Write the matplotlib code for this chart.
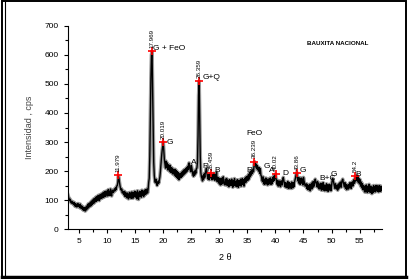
import numpy as np
import matplotlib
matplotlib.use("Agg")
import matplotlib.pyplot as plt
from matplotlib.patches import Rectangle
from matplotlib.lines import Line2D
from matplotlib.ticker import MultipleLocator

plt.rcParams['font.family'] = ['Liberation Sans', 'DejaVu Sans']

# intensity, one row per degree (x.0 ... x.9), start at 3.0
intensity = [
    118, 112, 104, 98, 103, 95, 90, 96, 88, 92,
    85, 92, 80, 88, 78, 86, 76, 84, 88, 78,
    82, 74, 86, 72, 80, 70, 78, 66, 74, 64,
    74, 62, 76, 66, 80, 70, 86, 74, 88, 78,
    92, 80, 96, 84, 100, 88, 104, 90, 106, 94,
    110, 96, 112, 100, 116, 102, 98, 118, 104, 120,
    106, 122, 108, 126, 110, 128, 112, 130, 114, 124,
    132, 114, 136, 118, 130, 116, 138, 120, 114, 132,
    134, 126, 130, 138, 132, 142, 136, 148, 150, 160,
    182, 175, 160, 148, 140, 134, 138, 125, 130, 122,
    118, 130, 112, 126, 114, 108, 124, 110, 104, 122,
    126, 108, 124, 106, 128, 112, 106, 126, 114, 130,
    110, 128, 114, 104, 132, 116, 102, 126, 130, 112,
    128, 110, 134, 116, 130, 112, 132, 118, 136, 120,
    126, 138, 124, 136, 160, 175, 250, 380, 520, 600,
    613, 480, 330, 230, 185, 165, 160, 172, 158, 150,
    155, 165, 158, 170, 180, 200, 225, 250, 270, 285,
    300, 270, 240, 225, 210, 234, 212, 228, 204, 222,
    212, 200, 220, 196, 212, 194, 210, 190, 206, 196,
    186, 206, 182, 202, 178, 198, 174, 194, 170, 190,
    176, 192, 178, 196, 182, 200, 186, 204, 190, 206,
    194, 210, 198, 214, 204, 222, 228, 212, 204, 198,
    220, 210, 196, 186, 182, 198, 186, 202, 192, 208,
    210, 230, 320, 460, 510, 380, 250, 195, 180, 175,
    166, 184, 172, 190, 178, 194, 200, 210, 192, 180,
    172, 188, 170, 184, 192, 176, 190, 170, 186, 172,
    192, 176, 168, 188, 172, 196, 164, 178, 162, 176,
    156, 174, 152, 172, 154, 176, 158, 180, 162, 154,
    152, 172, 156, 174, 150, 168, 162, 146, 170, 152,
    168, 150, 172, 156, 144, 166, 150, 174, 158, 148,
    164, 146, 170, 150, 144, 168, 162, 150, 172, 148,
    166, 174, 154, 170, 148, 164, 176, 160, 180, 166,
    182, 168, 188, 172, 196, 180, 198, 186, 202, 192,
    205, 198, 222, 232, 218, 225, 210, 220, 205, 214,
    200, 212, 192, 208, 186, 182, 168, 164, 180, 156,
    172, 154, 170, 176, 156, 172, 152, 168, 154, 174,
    158, 176, 154, 170, 156, 178, 164, 182, 168, 184,
    190, 174, 166, 154, 168, 148, 164, 150, 166, 146,
    162, 166, 152, 170, 178, 168, 160, 146, 160, 144,
    158, 142, 164, 146, 140, 160, 144, 156, 140, 162,
    148, 142, 160, 146, 162, 170, 178, 188, 195, 180,
    166, 178, 158, 176, 154, 170, 176, 158, 172, 152,
    178, 166, 158, 148, 150, 156, 140, 154, 136, 150,
    136, 154, 132, 150, 156, 138, 162, 144, 164, 148,
    164, 172, 162, 156, 146, 164, 144, 158, 138, 152,
    140, 158, 134, 154, 136, 160, 134, 152, 132, 150,
    136, 156, 132, 152, 130, 150, 154, 134, 152, 132,
    150, 165, 175, 168, 158, 150, 140, 156, 144, 138,
    150, 134, 154, 140, 158, 148, 162, 144, 160, 168,
    172, 160, 154, 146, 160, 140, 154, 136, 152, 142,
    138, 154, 142, 160, 148, 140, 158, 162, 148, 166,
    170, 158, 176, 166, 185, 176, 166, 182, 160, 174,
    156, 170, 148, 162, 142, 156, 136, 150, 138, 128,
    148, 128, 152, 132, 126, 148, 130, 154, 134, 126,
    148, 130, 122, 144, 126, 150, 132, 146, 128, 150,
    132, 150, 130, 146, 128, 150, 134, 130, 148, 132,
    140,
]
two_theta = 3.0 + 0.1 * np.arange(len(intensity))

# marked peaks
peak_x = [11.979, 17.969, 20.019, 26.359, 28.459, 36.239, 40.02, 43.86, 54.2]
peak_y = [185, 613, 300, 510, 193, 232, 190, 193, 183]
peak_txt = ["11.979", "17.969", "20.019", "26.359", "28.459", "36.239", "40.02", "43.86", "54.2"]

# phase labels
phase_txt = ["G + FeO", "G+Q", "G", "A", "R", "B", "FeO", "R", "G", "A", "D", "G", "B+C", "G", "B"]
phase_x = [18.2, 27.1, 20.6, 25.0, 27.0, 29.2, 34.8, 34.8, 37.9, 38.9, 41.3, 44.3, 47.9, 49.8, 54.2]
phase_y = [621, 522, 298, 230, 216, 202, 330, 202, 216, 202, 190, 202, 175, 188, 188]

fig = plt.figure(figsize=(4.09, 2.79), dpi=100)
ax = fig.add_axes([0.166, 0.179, 0.768, 0.728])

ax.plot(two_theta, intensity, color='#9a9a9a', lw=2.6)
ax.plot(two_theta, intensity, color='black', lw=1.0)
ax.plot(peak_x, peak_y, '+', color='red', ms=6, mew=1.2)

for px, py, t in zip(peak_x, peak_y, peak_txt):
    ax.text(px, py + 12, t, rotation=90, ha='center', va='bottom', fontsize=4.5)
for px, py, t in zip(phase_x, phase_y, phase_txt):
    ax.text(px, py, t, ha='left', va='center', fontsize=6)

ax.set_xlim(3, 59)
ax.set_ylim(0, 700)
ax.xaxis.set_major_locator(MultipleLocator(5))
ax.xaxis.set_minor_locator(MultipleLocator(2.5))
ax.yaxis.set_major_locator(MultipleLocator(100))
ax.yaxis.set_minor_locator(MultipleLocator(50))
ax.spines['top'].set_visible(False)
ax.spines['right'].set_visible(False)
ax.tick_params(which='major', length=3, width=0.8, labelsize=6, direction='out')
ax.tick_params(which='minor', length=2, width=0.8, direction='out')
ax.set_xlabel('2 θ', fontsize=6.5, labelpad=6)
ax.set_ylabel('Intensidad , cps', fontsize=6.5, color='#444444', labelpad=8)
ax.text(0.86, 0.915, 'BAUXITA NACIONAL', transform=ax.transAxes,
        ha='center', va='center', fontsize=4.5, fontweight='bold')

# frame around the picture: thin top/right, double left, heavy bottom
fig.patches.append(Rectangle((0.005, 0.008), 0.988, 0.988, transform=fig.transFigure,
                             fill=False, edgecolor='black', lw=1.4))
fig.lines.append(Line2D([0.013, 0.013], [0.008, 0.996], transform=fig.transFigure,
                        color='black', lw=0.8))
fig.lines.append(Line2D([0.005, 0.993], [0.006, 0.006], transform=fig.transFigure,
                        color='black', lw=2.5))

fig.savefig('out.png', dpi=100)
